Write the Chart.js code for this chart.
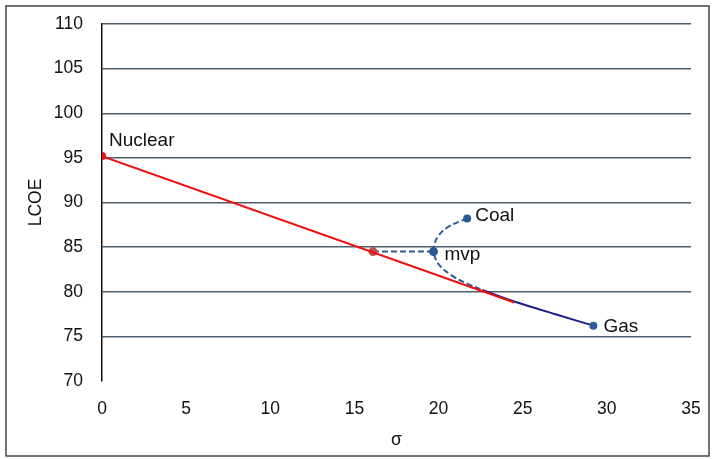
<!DOCTYPE html>
<html>
<head>
<meta charset="utf-8">
<script src="https://cdn.jsdelivr.net/npm/chart.js@4"></script>
<style>
    body { margin: 0; background: #fff; }
    #box { width: 712px; height: 459px; }
</style>
</head>
<body>
<div id="box"><canvas id="lcoe-chart" width="712" height="459"></canvas></div>
<script>
// straight line from nuclear through the tangent point
const lineSigma = [0, 24.5];
const lineLcoe = [95.2, 78.8];

// dashed part of the frontier, coal -> mvp -> where it meets the line
const dashedSigma = [21.7, 20.6, 20.0, 19.75, 19.7, 20.0, 20.8, 21.7, 22.6];
const dashedLcoe = [88.2, 87.3, 86.3, 85.3, 84.5, 83.1, 81.8, 80.9, 80.2];

// solid efficient part down to gas
const solidSigma = [22.6, 24.5, 26.9, 29.2];
const solidLcoe = [80.2, 78.9, 77.5, 76.2];

// horizontal link from the line to mvp
const linkSigma = [16.1, 19.7];
const linkLcoe = [84.5, 84.5];

const pointNames = ['Nuclear', 'Coal', 'mvp', 'Gas'];
const pointSigma = [0, 21.7, 19.7, 29.2];
const pointLcoe = [95.2, 88.2, 84.5, 76.2];

const xTicks = [0, 5, 10, 15, 20, 25, 30, 35];
const yTicks = [70, 75, 80, 85, 90, 95, 100, 105, 110];

function toPoints(xs, ys) {
    return xs.map((x, i) => ({ x: x, y: ys[i] }));
}

const labelOffsets = { Nuclear: [7, -15], Coal: [8, -3], mvp: [11, 3], Gas: [10, 1] };

const pointLabels = {
    id: 'pointLabels',
    afterDatasetsDraw(chart) {
        let ctx = chart.ctx;
        let xs = chart.scales.x, ys = chart.scales.y;
        ctx.save();
        ctx.font = '19px "Liberation Sans", Arial, sans-serif';
        ctx.fillStyle = '#111';
        ctx.textBaseline = 'middle';
        ctx.textAlign = 'left';
        pointNames.forEach((name, i) => {
            let off = labelOffsets[name];
            ctx.fillText(name, xs.getPixelForValue(pointSigma[i]) + off[0], ys.getPixelForValue(pointLcoe[i]) + off[1]);
        });
        ctx.restore();
    }
};

const frame = {
    id: 'frame',
    beforeDraw(chart) {
        let ctx = chart.ctx;
        ctx.save();
        ctx.fillStyle = '#fff';
        ctx.fillRect(0, 0, chart.width, chart.height);
        ctx.strokeStyle = '#444';
        ctx.lineWidth = 1.5;
        ctx.strokeRect(6, 6, 703, 450);
        ctx.restore();
    }
};

const dashBlue = '#2f5b96';
const font = { family: '"Liberation Sans", Arial, sans-serif', size: 17.5 };

let chart = new Chart(document.getElementById('lcoe-chart').getContext('2d'), {
    type: 'scatter',
    data: {
        datasets: [{
            data: toPoints(lineSigma, lineLcoe),
            showLine: true,
            borderColor: '#f01010',
            borderWidth: 2,
            pointRadius: [4, 0],
            pointBackgroundColor: '#f01010',
            pointBorderWidth: 0,
            order: 0
        },
        {
            data: toPoints(solidSigma, solidLcoe),
            showLine: true,
            borderColor: '#1c1c86',
            borderWidth: 2,
            tension: 0.3,
            pointRadius: [0, 0, 0, 4],
            pointBackgroundColor: '#2e5d9e',
            pointBorderWidth: 0,
            order: 1
        },
        {
            data: toPoints(dashedSigma, dashedLcoe),
            showLine: true,
            borderColor: dashBlue,
            borderWidth: 2,
            borderDash: [6, 3],
            tension: 0.4,
            pointRadius: [4, 0, 0, 0, 4.5, 0, 0, 0, 0],
            pointBackgroundColor: '#2a5896',
            pointBorderWidth: 0,
            order: 2
        },
        {
            data: toPoints(linkSigma, linkLcoe),
            showLine: true,
            borderColor: dashBlue,
            borderWidth: 2,
            borderDash: [6, 3],
            pointRadius: [4.5, 0],
            pointBackgroundColor: '#c0504d',
            pointBorderWidth: 0,
            order: 3
        }]
    },
    options: {
        responsive: false,
        animation: false,
        layout: { padding: { left: 0, top: 24, right: 21, bottom: 0 } },
        plugins: {
            legend: { display: false },
            tooltip: { enabled: false }
        },
        scales: {
            x: {
                type: 'linear',
                min: 0,
                max: 35,
                afterBuildTicks: scale => { scale.ticks = xTicks.map(v => ({ value: v })); },
                afterFit: scale => {
                    scale.height = 78;
                    scale.paddingLeft = 0;
                    scale.paddingRight = 0;
                },
                grid: { display: false, drawTicks: false },
                border: { display: false },
                ticks: { padding: 18, color: '#111', font: font },
                title: {
                    display: true,
                    text: 'σ',
                    color: '#111',
                    padding: { top: 0, bottom: 8 },
                    font: font
                }
            },
            y: {
                type: 'linear',
                min: 70,
                max: 110,
                afterBuildTicks: scale => { scale.ticks = yTicks.map(v => ({ value: v })); },
                afterFit: scale => {
                    scale.width = 102;
                    scale.paddingTop = 0;
                    scale.paddingBottom = 0;
                },
                grid: {
                    drawTicks: false,
                    lineWidth: 1.5,
                    color: ctx => ctx.tick && ctx.tick.value === 70 ? 'rgba(0,0,0,0)' : '#4f5e6d'
                },
                border: { display: true, color: '#111', width: 1.5 },
                ticks: { padding: 19, color: '#111', font: font },
                title: {
                    display: true,
                    text: 'LCOE',
                    color: '#111',
                    padding: { top: 26, bottom: 0 },
                    font: font
                }
            }
        }
    },
    plugins: [frame, pointLabels]
});
</script>
</body>
</html>
